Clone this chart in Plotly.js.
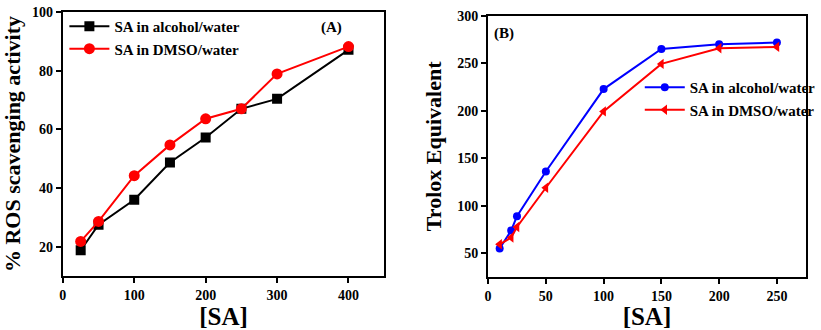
<!DOCTYPE html>
<html><head><meta charset="utf-8">
<script src="https://cdn.plot.ly/plotly-3.0.1.min.js"></script>
<style>html,body{margin:0;padding:0;background:#fff}#c{width:821px;height:330px}</style>
</head><body><div id="c"></div>
<script>
// Panel A
const xA = [25, 50, 100, 150, 200, 250, 300, 400];
const alcoholA = [18.8, 27.5, 36, 48.7, 57.2, 67, 70.4, 87.1];
const dmsoA = [21.8, 28.6, 44.2, 54.7, 63.6, 67, 78.9, 88.2];
// Panel B
const xB = [10, 20, 25, 50, 100, 150, 200, 250];
const alcoholB = [55, 74, 89, 136, 222.8, 265, 270, 271.7];
const dmsoB = [59.4, 66.5, 77.6, 118.9, 199.3, 249.3, 265.8, 267.2];
const seriesNames = ["SA in alcohol/water", "SA in DMSO/water"];
const ticksA_x = [0, 100, 200, 300, 400];
const ticksA_y = [20, 40, 60, 80, 100];
const ticksB_x = [0, 50, 100, 150, 200, 250];
const ticksB_y = [50, 100, 150, 200, 250, 300];

const F = "Liberation Serif";
const traces = [
  {x: xA, y: alcoholA, name: seriesNames[0], mode: "lines+markers", xaxis: "x", yaxis: "y", legend: "legend",
   line: {color: "#000", width: 2}, marker: {symbol: "square", size: 10, color: "#000"}},
  {x: xA, y: dmsoA, name: seriesNames[1], mode: "lines+markers", xaxis: "x", yaxis: "y", legend: "legend",
   line: {color: "#ff0000", width: 2}, marker: {symbol: "circle", size: 11, color: "#ff0000"}},
  {x: xB, y: alcoholB, name: seriesNames[0], mode: "lines+markers", xaxis: "x2", yaxis: "y2", legend: "legend2",
   line: {color: "#0000ff", width: 2}, marker: {symbol: "circle", size: 8, color: "#0000ff"}},
  {x: xB, y: dmsoB, name: seriesNames[1], mode: "lines+markers", xaxis: "x2", yaxis: "y2", legend: "legend2",
   line: {color: "#ff0000", width: 2}, marker: {symbol: "triangle-left", size: 9, color: "#ff0000"}}
];
const ax = (extra) => Object.assign({
  showgrid: false, zeroline: false, showline: true, mirror: true, linecolor: "#000", linewidth: 2,
  ticks: "outside", ticklen: 5, tickwidth: 2, tickcolor: "#000",
  tickfont: {family: F, size: 14, color: "#000", weight: "bold"}
}, extra);
const layout = {
  width: 821, height: 330, margin: {l: 0, r: 0, t: 0, b: 0},
  paper_bgcolor: "#fff", plot_bgcolor: "#fff", showlegend: true,
  font: {family: F, color: "#000"},
  xaxis: ax({domain: [0.0771, 0.4714], range: [0, 450], tickvals: ticksA_x, anchor: "y",
    title: {text: "[SA]", font: {family: F, size: 25, weight: "bold"}, standoff: 6}}),
  yaxis: ax({domain: [0.1636, 0.9636], range: [10, 100], tickvals: ticksA_y, anchor: "x",
    title: {text: "% ROS scavenging activity", font: {family: F, size: 22, weight: "bold"}, standoff: 10}}),
  xaxis2: ax({domain: [0.5989, 0.9887], range: [0, 275], tickvals: ticksB_x, anchor: "y2",
    title: {text: "[SA]", font: {family: F, size: 25, weight: "bold"}, standoff: 6}}),
  yaxis2: ax({domain: [0.1606, 0.9524], range: [25, 300], tickvals: ticksB_y, anchor: "x2",
    title: {text: "Trolox Equivalent", font: {family: F, size: 22, weight: "bold"}, standoff: 10}}),
  legend: {x: 0.079, y: 0.97, xanchor: "left", yanchor: "top", bgcolor: "rgba(0,0,0,0)",
    font: {family: F, size: 15, weight: "bold", color: "#000"}, tracegroupgap: 0, itemwidth: 40},
  legend2: {x: 0.785, y: 0.785, xanchor: "left", yanchor: "top", bgcolor: "rgba(0,0,0,0)",
    font: {family: F, size: 15, weight: "bold", color: "#000"}, tracegroupgap: 0, itemwidth: 40},
  annotations: [
    {text: "(A)", x: 0.407, y: 0.95, xref: "paper", yref: "paper", showarrow: false,
     font: {family: F, size: 15, weight: "bold", color: "#000"}},
    {text: "(B)", x: 0.619, y: 0.93, xref: "paper", yref: "paper", showarrow: false,
     font: {family: F, size: 15, weight: "bold", color: "#000"}}
  ]
};
Plotly.newPlot("c", traces, layout, {staticPlot: true});
</script></body></html>
